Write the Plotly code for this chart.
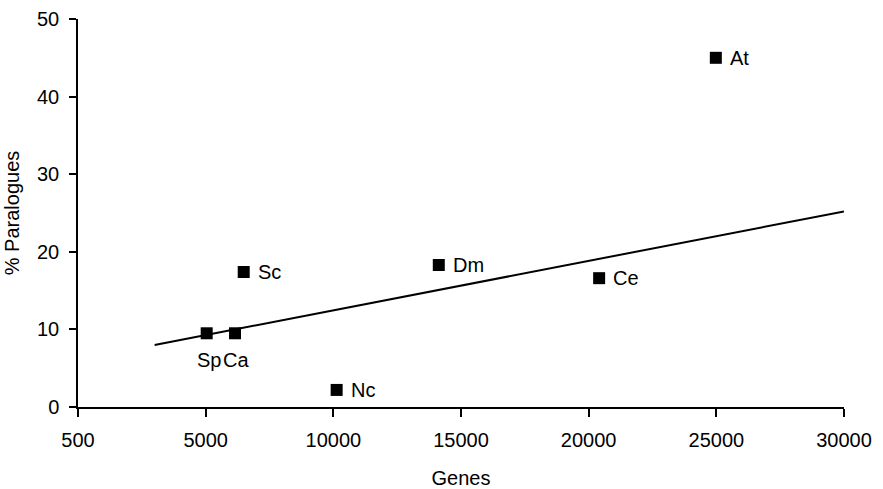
import plotly.graph_objects as go

species = ["Sp", "Ca", "Sc", "Nc", "Dm", "Ce", "At"]
genes = [5040, 6150, 6490, 10130, 14130, 20410, 24980]
paralogues = [9.5, 9.5, 17.4, 2.2, 18.3, 16.6, 45.0]
label_side = ["below", "below", "right", "right", "right", "right", "right"]

trend_x = [3000, 30000]
trend_y = [8.0, 25.2]

x_tickvals = [0, 5000, 10000, 15000, 20000, 25000, 30000]
x_ticktext = ["500", "5000", "10000", "15000", "20000", "25000", "30000"]
y_tickvals = [0, 10, 20, 30, 40, 50]

font = "Liberation Sans, Arial, sans-serif"

fig = go.Figure()
fig.add_trace(go.Scatter(x=trend_x, y=trend_y, mode="lines",
                         line=dict(color="black", width=2), hoverinfo="skip"))
fig.add_trace(go.Scatter(
    x=genes, y=paralogues, mode="markers",
    marker=dict(symbol="square", size=12, color="black"),
))

below_shift = {"Sp": 2, "Ca": 1}
for s, gx, py, side in zip(species, genes, paralogues, label_side):
    if side == "right":
        fig.add_annotation(x=gx, y=py, text=s, showarrow=False,
                           xanchor="left", yanchor="middle", xshift=12, yshift=0,
                           font=dict(family=font, size=20, color="black"))
    else:
        fig.add_annotation(x=gx, y=py, text=s, showarrow=False,
                           xanchor="center", yanchor="middle",
                           xshift=below_shift.get(s, 0), yshift=-27,
                           font=dict(family=font, size=20, color="black"))

fig.update_layout(
    width=883, height=489,
    margin=dict(l=78, r=39, t=19, b=82, autoexpand=False),
    paper_bgcolor="white", plot_bgcolor="white",
    showlegend=False,
    font=dict(family=font, size=20, color="black"),
)
fig.update_xaxes(
    range=[0, 30000], tickvals=x_tickvals, ticktext=x_ticktext,
    showgrid=False, zeroline=False, showline=True, linecolor="black", linewidth=1.5,
    ticks="outside", ticklen=8, tickcolor="black", tickwidth=1.5,
    ticklabelstandoff=6, automargin=False,
    tickfont=dict(family=font, size=20),
    title=dict(text="Genes", font=dict(family=font, size=20), standoff=21),
)
fig.update_yaxes(
    range=[0, 50], tickvals=y_tickvals,
    showgrid=False, zeroline=False, showline=True, linecolor="black", linewidth=1.5,
    ticks="outside", ticklen=7, tickcolor="black", tickwidth=1.5,
    ticklabelstandoff=6, automargin=False,
    tickfont=dict(family=font, size=20),
    title=dict(text="% Paralogues", font=dict(family=font, size=20), standoff=12),
)

fig.write_html("out.html",
               config={"displayModeBar": False},
               post_script="document.body.style.margin='0';document.body.style.overflow='hidden';")
